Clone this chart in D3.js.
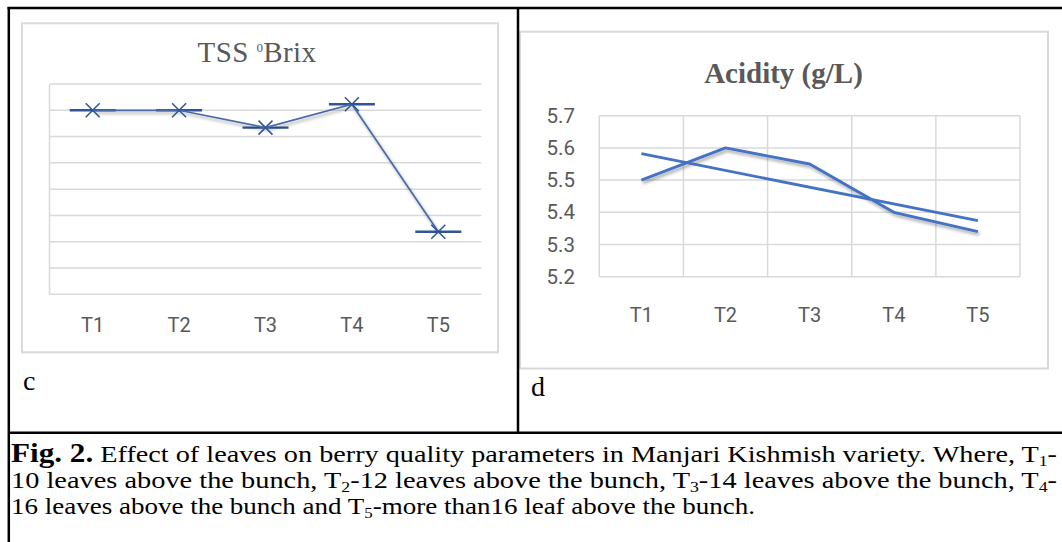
<!DOCTYPE html>
<html><head><meta charset="utf-8">
<script src="https://cdn.jsdelivr.net/npm/d3@7"></script>
<style>html,body{margin:0;padding:0;background:#fff;}svg{display:block;}</style>
</head><body>
<svg id="fig" width="1062" height="542"></svg>
<script>
// ---------- data ----------
const categories = ["T1", "T2", "T3", "T4", "T5"];
// Panel c: TSS (°Brix) - y-axis labels are not shown in the original
const tssValues = [22.0, 22.0, 21.34, 22.23, 17.38];
const tssTicks = [15, 16, 17, 18, 19, 20, 21, 22, 23];
// Panel d: Acidity (g/L)
const acidityValues = [5.50, 5.60, 5.55, 5.40, 5.34];
const acidityTicks = [5.2, 5.3, 5.4, 5.5, 5.6, 5.7];

const svg = d3.select("#fig");
const gray = "#d9d9d9", textGray = "#595959";
const serif = "'Liberation Serif', 'Times New Roman', Times, serif";
const sans = "Roboto, 'Liberation Sans', sans-serif";
const defs = svg.append("defs");
const sh = defs.append("filter").attr("id", "shadow").attr("x", "-10%").attr("y", "-30%").attr("width", "130%").attr("height", "180%");
sh.append("feDropShadow").attr("dx", 1.5).attr("dy", 2.5).attr("stdDeviation", 1.6).attr("flood-color", "#000").attr("flood-opacity", 0.35);

svg.append("rect").attr("width", 1062).attr("height", 542).attr("fill", "#fff");

// ---------- panel c ----------
const gc = svg.append("g");
gc.append("rect").attr("x", 22).attr("y", 23.3).attr("width", 476).attr("height", 329)
  .attr("fill", "#fff").attr("stroke", gray).attr("stroke-width", 2);
const tt = gc.append("text").attr("x", 257).attr("y", 61.7).attr("text-anchor", "middle")
  .style("font-family", serif).attr("font-size", 29)
  .attr("fill", textGray).attr("letter-spacing", 0.4);
tt.append("tspan").text("TSS ");
tt.append("tspan").attr("font-size", 13).attr("dy", -10).text("0");
tt.append("tspan").attr("dy", 10).text("Brix");

const xc = d3.scaleBand().domain(categories).range([49.5, 481.5]).padding(0);
const yc = d3.scaleLinear().domain([15, 23]).range([294.3, 84]);
gc.append("g").selectAll("line").data(tssTicks).join("line")
  .attr("x1", 49.5).attr("x2", 481.5).attr("y1", d => yc(d)).attr("y2", d => yc(d))
  .attr("stroke", gray).attr("stroke-width", 1.5);
gc.append("line").attr("x1", 49.5).attr("x2", 49.5).attr("y1", yc(23)).attr("y2", yc(15))
  .attr("stroke", gray).attr("stroke-width", 1.5);
const xcAxis = gc.append("g").attr("transform", "translate(0,332)")
  .call(d3.axisBottom(xc).tickSize(0).tickPadding(0));
xcAxis.select(".domain").remove();
xcAxis.selectAll("text").style("font-family", sans).attr("font-size", 20)
  .attr("fill", textGray).attr("dy", 0).attr("y", 0);

const cx = d => xc(d) + xc.bandwidth() / 2;
const pts = categories.map((c, i) => ({c, v: tssValues[i]}));
gc.append("g").selectAll("line").data(pts).join("line")
  .attr("x1", d => cx(d.c) - 23).attr("x2", d => cx(d.c) + 23)
  .attr("y1", d => yc(d.v)).attr("y2", d => yc(d.v))
  .attr("stroke", "#2F5597").attr("stroke-width", 2.4);
gc.append("path").datum(pts)
  .attr("d", d3.line().x(d => cx(d.c)).y(d => yc(d.v)))
  .attr("fill", "none").attr("stroke", "#4A6BA8").attr("stroke-width", 1.7)
  .attr("filter", "url(#shadow)");
gc.append("g").selectAll("path").data(pts).join("path")
  .attr("d", d => { const x = cx(d.c), y = yc(d.v), s = 7;
    return `M${x-s},${y-s}L${x+s},${y+s}M${x-s},${y+s}L${x+s},${y-s}`; })
  .attr("stroke", "#2F5597").attr("stroke-width", 1.5).attr("fill", "none");

// ---------- panel d ----------
const gd = svg.append("g");
gd.append("rect").attr("x", 520).attr("y", 31.7).attr("width", 528).attr("height", 336.8)
  .attr("fill", "#fff").attr("stroke", gray).attr("stroke-width", 2);
gd.append("text").attr("x", 783.5).attr("y", 83).attr("text-anchor", "middle")
  .style("font-family", serif).attr("font-size", 29)
  .attr("font-weight", "bold").attr("fill", textGray).text("Acidity (g/L)");

const xd = d3.scaleBand().domain(categories).range([599.3, 1020]).padding(0);
const yd = d3.scaleLinear().domain([5.2, 5.7]).range([276.7, 115.7]);
gd.append("g").selectAll("line").data(acidityTicks).join("line")
  .attr("x1", 599.3).attr("x2", 1020).attr("y1", d => yd(d)).attr("y2", d => yd(d))
  .attr("stroke", gray).attr("stroke-width", 1.5);
const vlines = categories.map(c => xd(c)).concat([xd.range()[1]]);
gd.append("g").selectAll("line").data(vlines).join("line")
  .attr("x1", d => d).attr("x2", d => d).attr("y1", yd(5.7)).attr("y2", yd(5.2))
  .attr("stroke", gray).attr("stroke-width", 1.5);
const ydAxis = gd.append("g").attr("transform", "translate(575,0)")
  .call(d3.axisLeft(yd).tickValues(acidityTicks).tickFormat(d3.format(".1f")).tickSize(0).tickPadding(0));
ydAxis.select(".domain").remove();
ydAxis.selectAll("text").style("font-family", sans).attr("font-size", 20.5)
  .attr("fill", textGray);
const xdAxis = gd.append("g").attr("transform", "translate(0,322)")
  .call(d3.axisBottom(xd).tickSize(0).tickPadding(0));
xdAxis.select(".domain").remove();
xdAxis.selectAll("text").style("font-family", sans).attr("font-size", 20)
  .attr("fill", textGray).attr("dy", 0).attr("y", 0);

const dx = d => xd(d) + xd.bandwidth() / 2;
const apts = categories.map((c, i) => ({c, i: i + 1, v: acidityValues[i]}));
// linear trendline (least squares)
const n = apts.length, mx = d3.mean(apts, d => d.i), my = d3.mean(apts, d => d.v);
const slope = d3.sum(apts, d => (d.i - mx) * (d.v - my)) / d3.sum(apts, d => (d.i - mx) ** 2);
const icpt = my - slope * mx;
const trend = [apts[0], apts[n - 1]].map(d => ({c: d.c, v: icpt + slope * d.i}));
gd.append("path").datum(apts)
  .attr("d", d3.line().x(d => dx(d.c)).y(d => yd(d.v)))
  .attr("fill", "none").attr("stroke", "#4472C4").attr("stroke-width", 2.8)
  .attr("stroke-linejoin", "round").attr("filter", "url(#shadow)");
gd.append("path").datum(trend)
  .attr("d", d3.line().x(d => dx(d.c)).y(d => yd(d.v)))
  .attr("fill", "none").attr("stroke", "#4472C4").attr("stroke-width", 2.8);

// ---------- panel letters ----------
svg.append("text").attr("x", 23).attr("y", 390).style("font-family", serif).attr("font-size", 28).text("c");
svg.append("text").attr("x", 531).attr("y", 396).style("font-family", serif).attr("font-size", 28).text("d");

// ---------- caption ----------
const cap = svg.append("g").style("font-family", serif).attr("font-size", 24).attr("fill", "#000");
function sub(t, s) { t.append("tspan").attr("font-size", 15).attr("dy", 4).text(s); }
const l1 = cap.append("text").attr("x", 11).attr("y", 461.7).attr("textLength", 1046).attr("lengthAdjust", "spacingAndGlyphs");
l1.append("tspan").attr("font-weight", "bold").attr("font-size", 26.5).text("Fig. 2.");
l1.append("tspan").text(" Effect of leaves on berry quality parameters in Manjari Kishmish variety. Where, T");
sub(l1, "1"); l1.append("tspan").attr("dy", -4).text("-");
const l2 = cap.append("text").attr("x", 11).attr("y", 488.3).attr("textLength", 1046).attr("lengthAdjust", "spacingAndGlyphs");
l2.append("tspan").text("10 leaves above the bunch, T");
sub(l2, "2"); l2.append("tspan").attr("dy", -4).text("-12 leaves above the bunch, T");
sub(l2, "3"); l2.append("tspan").attr("dy", -4).text("-14 leaves above the bunch, T");
sub(l2, "4"); l2.append("tspan").attr("dy", -4).text("-");
const l3 = cap.append("text").attr("x", 11).attr("y", 514.3).attr("textLength", 744).attr("lengthAdjust", "spacingAndGlyphs");
l3.append("tspan").text("16 leaves above the bunch and T");
sub(l3, "5"); l3.append("tspan").attr("dy", -4).text("-more than16 leaf above the bunch.");

// ---------- figure borders ----------
const bl = svg.append("g").attr("stroke", "#000").attr("stroke-width", 2.5);
bl.append("line").attr("x1", 7.5).attr("x2", 1062).attr("y1", 8).attr("y2", 8);
bl.append("line").attr("x1", 8.8).attr("x2", 8.8).attr("y1", 7).attr("y2", 542);
bl.append("line").attr("x1", 518).attr("x2", 518).attr("y1", 8).attr("y2", 433);
bl.append("line").attr("x1", 8).attr("x2", 1062).attr("y1", 432.7).attr("y2", 432.7);
</script>
</body></html>
